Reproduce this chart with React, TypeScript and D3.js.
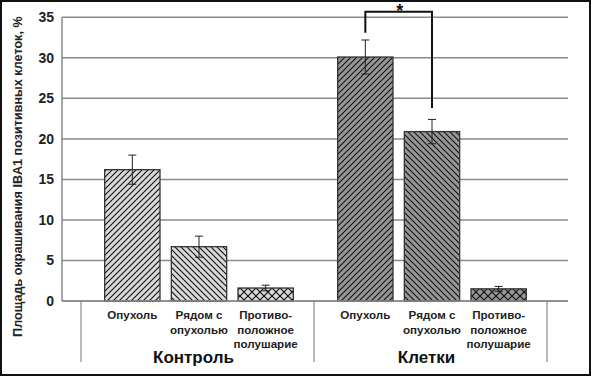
import React from "react";
import * as d3 from "d3";

const groups = ["Контроль", "Клетки"];
const categories = ["Опухоль", "Рядом с опухолью", "Противоположное полушарие"];
const categoryLines = [["Опухоль"], ["Рядом с", "опухолью"], ["Противо-", "положное", "полушарие"]];
const controlValues = [16.2, 6.7, 1.6];
const controlErrors = [1.8, 1.3, 0.35];
const cellValues = [30.1, 20.9, 1.5];
const cellErrors = [2.1, 1.5, 0.3];
const yTicks = [0, 5, 10, 15, 20, 25, 30, 35];
// significance bracket (data units): between Клетки/Опухоль and Клетки/Рядом
const bracketTop = 35.7;
const bracketLeftEnd = 33.1;
const bracketRightEnd = 23.8;

const W = 591;
const H = 376;
const FONT = "'Liberation Sans', Arial, sans-serif";

export default function App() {
  const plotLeft = 62;
  const plotRight = 568;
  const y = d3.scaleLinear().domain([0, 35]).range([301, 17.3]);
  const gx = d3.scaleBand<string>().domain(groups).range([81, 547]).padding(0);
  const ix = d3
    .scaleBand<string>()
    .domain(categories)
    .range([18, 218])
    .paddingInner(0.17)
    .paddingOuter(0.085);

  const series = [
    { group: groups[0], values: controlValues, errors: controlErrors, fill: "#d9d9d9" },
    { group: groups[1], values: cellValues, errors: cellErrors, fill: "#969696" },
  ];
  const patterns = ["fwd", "back", "cross"];

  const cx = (g: string, c: string) => (gx(g) as number) + (ix(c) as number) + ix.bandwidth() / 2;

  const bx1 = cx(groups[1], categories[0]);
  const bx2 = cx(groups[1], categories[1]);

  return (
    <svg
      width={W}
      height={H}
      style={{ position: "absolute", left: 0, top: 0, background: "#fff" }}
      fontFamily={FONT}
    >
      <defs>
        {series.map((s, si) => (
          <React.Fragment key={si}>
            <pattern id={`fwd${si}`} patternUnits="userSpaceOnUse" width={6} height={6}>
              <rect width={6} height={6} fill={s.fill} />
              <path d="M0,6 L6,0 M-1,1 L1,-1 M5,7 L7,5" stroke="#111" strokeWidth={1.1} />
            </pattern>
            <pattern id={`back${si}`} patternUnits="userSpaceOnUse" width={6} height={6}>
              <rect width={6} height={6} fill={s.fill} />
              <path d="M0,0 L6,6 M-1,5 L1,7 M5,-1 L7,1" stroke="#111" strokeWidth={1.1} />
            </pattern>
            <pattern id={`cross${si}`} patternUnits="userSpaceOnUse" width={8} height={8}>
              <rect width={8} height={8} fill={s.fill} />
              <path d="M0,0 L8,8 M0,8 L8,0" stroke="#111" strokeWidth={1.2} />
            </pattern>
          </React.Fragment>
        ))}
      </defs>

      <rect x={1} y={1} width={W - 2} height={H - 2} fill="#fff" stroke="#111" strokeWidth={2} />

      {/* gridlines */}
      {yTicks.map((t) => (
        <line key={t} x1={plotLeft} x2={plotRight} y1={y(t)} y2={y(t)} stroke="#8a8a8a" strokeWidth={1.5} />
      ))}
      <line x1={plotLeft} x2={plotLeft} y1={y(35)} y2={y(0)} stroke="#8a8a8a" strokeWidth={1.5} />

      {/* y tick labels */}
      {yTicks.map((t) => (
        <text
          key={t}
          x={54}
          y={y(t)}
          dy="0.35em"
          textAnchor="end"
          fontSize={14}
          fontWeight="bold"
          fill="#222"
        >
          {t}
        </text>
      ))}

      {/* y axis title */}
      <text
        transform={`translate(22,${(y(35) + 336) / 2}) rotate(-90)`}
        textAnchor="middle"
        fontSize={12.6}
        fontWeight="bold"
        fill="#222"
      >
        Площадь окрашивания IBA1 позитивных клеток, %
      </text>

      {/* bars */}
      {series.map((s, si) =>
        categories.map((c, ci) => {
          const x0 = (gx(s.group) as number) + (ix(c) as number);
          return (
            <rect
              key={`${si}-${ci}`}
              x={x0}
              y={y(s.values[ci])}
              width={ix.bandwidth()}
              height={y(0) - y(s.values[ci])}
              fill={`url(#${patterns[ci]}${si})`}
              stroke="#333"
              strokeWidth={1.3}
            />
          );
        })
      )}

      {/* error bars */}
      {series.map((s, si) =>
        categories.map((c, ci) => {
          const x = cx(s.group, c);
          const hi = y(s.values[ci] + s.errors[ci]);
          const lo = y(s.values[ci] - s.errors[ci]);
          return (
            <g key={`e${si}-${ci}`} stroke="#222" strokeWidth={1}>
              <line x1={x} x2={x} y1={hi} y2={lo} />
              <line x1={x - 4} x2={x + 4} y1={hi} y2={hi} />
              <line x1={x - 4} x2={x + 4} y1={lo} y2={lo} />
            </g>
          );
        })
      )}

      {/* baseline */}
      <line x1={plotLeft} x2={plotRight} y1={y(0)} y2={y(0)} stroke="#8a8a8a" strokeWidth={1.5} />

      {/* group separators */}
      {[gx(groups[0]) as number, gx(groups[1]) as number, (gx(groups[1]) as number) + gx.bandwidth()].map((x, i) => (
        <line key={i} x1={x} x2={x} y1={y(0)} y2={362} stroke="#8a8a8a" strokeWidth={1.2} />
      ))}

      {/* category labels */}
      {groups.map((g) =>
        categories.map((c, ci) => (
          <text
            key={`${g}-${c}`}
            x={cx(g, c)}
            y={319}
            textAnchor="middle"
            fontSize={11.6}
            fontWeight="bold"
            fill="#222"
          >
            {categoryLines[ci].map((l, li) => (
              <tspan key={li} x={cx(g, c)} dy={li === 0 ? 0 : 14.5}>
                {l}
              </tspan>
            ))}
          </text>
        ))
      )}

      {/* group labels */}
      {groups.map((g) => (
        <text
          key={g}
          x={(gx(g) as number) + gx.bandwidth() / 2 - 4}
          y={363}
          textAnchor="middle"
          fontSize={17}
          fontWeight="bold"
          fill="#111"
        >
          {g}
        </text>
      ))}

      {/* significance bracket */}
      <path
        d={`M${bx1},${y(bracketLeftEnd)} V${y(bracketTop)} H${bx2} V${y(bracketRightEnd)}`}
        fill="none"
        stroke="#111"
        strokeWidth={2}
      />
      <text x={(bx1 + bx2) / 2 + 1} y={17} textAnchor="middle" fontSize={18} fontWeight="bold" fill="#111">
        *
      </text>
    </svg>
  );
}
